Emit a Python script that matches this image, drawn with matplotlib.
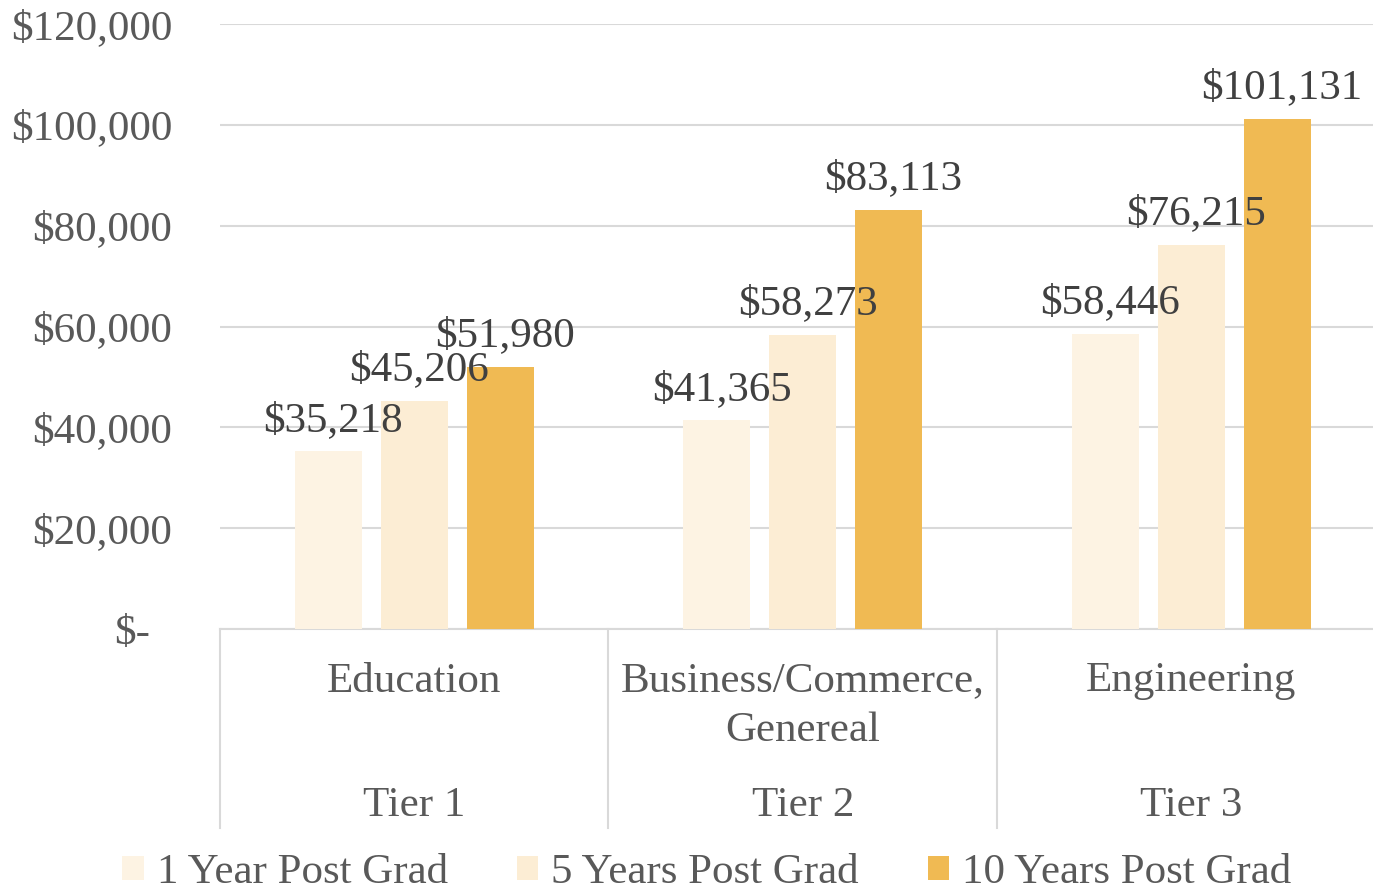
import matplotlib
matplotlib.use('agg')
import matplotlib.pyplot as plt
import matplotlib.transforms as mtransforms
from matplotlib.patches import Patch
import numpy as np

plt.rcParams['font.family'] = ['Liberation Serif', 'DejaVu Serif']

# data
categories = ['Education', 'Business/Commerce,\nGenereal', 'Engineering']
tiers = ['Tier 1', 'Tier 2', 'Tier 3']
series_names = ['1 Year Post Grad', '5 Years Post Grad', '10 Years Post Grad']
year1 = [35218, 41365, 58446]
year5 = [45206, 58273, 76215]
year10 = [51980, 83113, 101131]
yticks = [0, 20000, 40000, 60000, 80000, 100000, 120000]
ytick_labels = ['$-', '$20,000', '$40,000', '$60,000', '$80,000', '$100,000', '$120,000']

colors = ['#FDF3E3', '#FCEDD4', '#F0BA53']
grid_col = '#D9D9D9'
tick_col = '#595959'
label_col = '#404040'
fs = 31

W, H = 1373, 890
fig = plt.figure(figsize=(W / 100, H / 100), dpi=100)
ax_left = 220 / W
ax_right = 1385.5 / W
ax_bottom = 1 - 629 / H
ax_top = 1 - 24 / H
ax = fig.add_axes([ax_left, ax_bottom, ax_right - ax_left, ax_top - ax_bottom])

x = np.arange(len(categories))
bw = 0.1725
step = 0.221
for i, (vals, c) in enumerate(zip([year1, year5, year10], colors)):
    pos = x + (i - 1) * step
    ax.bar(pos, vals, width=bw, color=c, zorder=3)
    for p, v in zip(pos, vals):
        ax.annotate('${:,}'.format(v), (p, v), xytext=(3.5, 8.5), textcoords='offset points',
                    ha='center', va='bottom', fontsize=fs, color=label_col, zorder=5)

ax.set_xlim(-0.5, 2.5)
ax.set_ylim(0, 120000)
ax.set_yticks(yticks)
ax.set_yticklabels(ytick_labels)
ax.tick_params(axis='y', length=0, pad=34.5, labelsize=fs, labelcolor=tick_col)
ax.set_xticks([])
ax.yaxis.grid(True, color=grid_col, linewidth=1.5, zorder=0)
for s in ['top', 'right', 'left']:
    ax.spines[s].set_visible(False)
ax.spines['bottom'].set_color(grid_col)
ax.spines['bottom'].set_linewidth(1.5)

# accounting style zero label sits further left
zl = ax.get_yticklabels()[0]
zl.set_transform(zl.get_transform() + mtransforms.ScaledTranslation(-22 / 100, 0, fig.dpi_scale_trans))

# multi-level category axis
trans = mtransforms.blended_transform_factory(ax.transData, fig.transFigure)
for b in np.arange(-0.5, 3.0, 1.0):
    ax.plot([b, b], [1 - 629 / H, 1 - 828 / H], transform=trans, color=grid_col,
            linewidth=1.5, clip_on=False)
for xi, cat, tier in zip(x, categories, tiers):
    ax.text(xi, 1 - 662 / H, cat, transform=trans, ha='center', va='top',
            fontsize=fs, color=tick_col, linespacing=1.38)
    ax.text(xi, 1 - 806 / H, tier, transform=trans, ha='center', va='center',
            fontsize=fs, color=tick_col)

handles = [Patch(facecolor=c, edgecolor='none') for c in colors]
fig.legend(handles, series_names, loc='center', bbox_to_anchor=(707 / W, 1 - 873 / H),
           ncol=3, frameon=False, fontsize=fs, handlelength=0.5, handleheight=0.5,
           handletextpad=0.3, columnspacing=1.6, labelcolor=tick_col)

plt.savefig('out.png', dpi=100)
plt.close(fig)
